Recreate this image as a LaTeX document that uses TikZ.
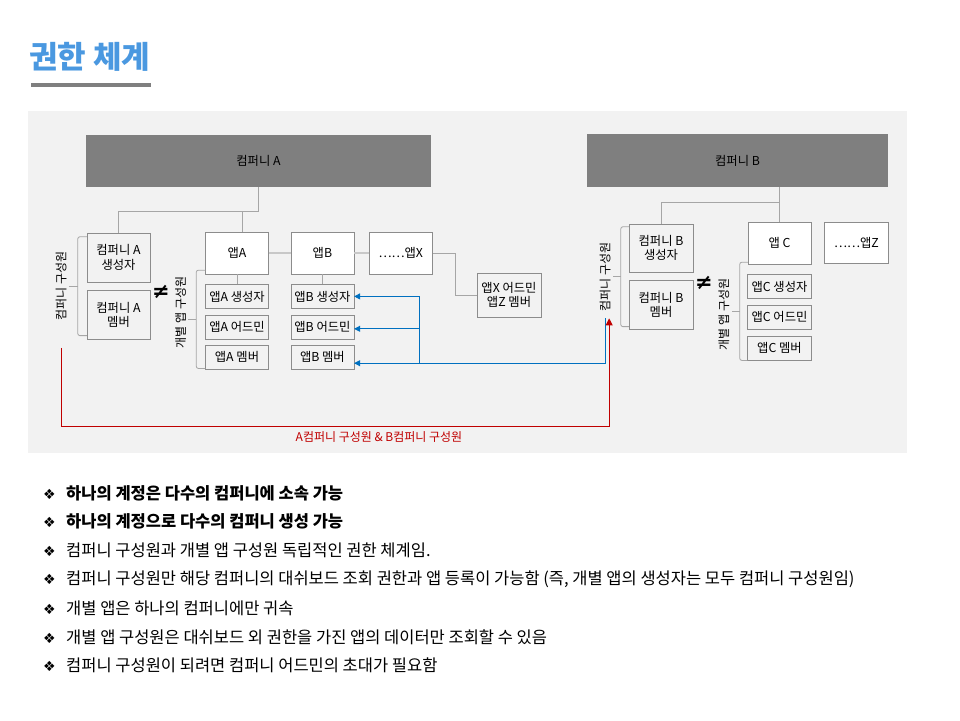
\documentclass[tikz,border=0pt]{standalone}
\usepackage{fontspec}
\setmainfont{Noto Sans CJK KR}
\newfontfamily\dejavu{DejaVu Sans}
\usepackage{xcolor}
\definecolor{titleblue}{HTML}{4A98E0}
\definecolor{panel}{HTML}{F2F2F2}
\definecolor{company}{HTML}{7F7F7F}
\definecolor{edge}{HTML}{8C8C8C}
\definecolor{linkgray}{HTML}{A6A6A6}
\definecolor{chaingray}{HTML}{C8C8C8}
\definecolor{flowblue}{HTML}{0070C0}
\definecolor{flowred}{HTML}{C00000}
\usepackage{tikz}
\usetikzlibrary{arrows.meta, positioning, calc}

\tikzset{
  companybox/.style={fill=company, text=black, inner sep=0pt,
    font=\fontsize{12.3}{14}\selectfont},
  rolebox/.style={draw=edge, fill=panel, inner sep=0pt, align=center,
    minimum width=63pt, minimum height=49pt, font=\fontsize{12.3}{14.5}\selectfont},
  appbox/.style={draw=edge, fill=white, inner sep=0pt,
    minimum width=63pt, minimum height=42pt, font=\fontsize{12.3}{14}\selectfont},
  appsub/.style={draw=edge, fill=panel, inner sep=0pt,
    minimum width=63pt, minimum height=24pt, font=\fontsize{12.3}{14}\selectfont},
  sidelabel/.style={rotate=90, inner sep=2pt, font=\fontsize{12}{13}\selectfont},
  bracket/.style={draw=linkgray, rounded corners=2pt, line width=0.8pt},
  tree/.style={draw=linkgray, line width=0.9pt},
  chain/.style={draw=chaingray, line width=2pt},
  neqsign/.style={font=\dejavu\bfseries\fontsize{21}{21}\selectfont},
  note/.style={anchor=west, inner sep=0pt, font=\fontsize{16.5}{19}\selectfont},
}

\newcommand{\dia}{\makebox[23pt][l]{\dejavu\fontsize{14}{14}\selectfont ❖}}

\begin{document}
\begin{tikzpicture}[x=1pt, y=-1pt, >=Stealth]

  \useasboundingbox (0,0) rectangle (960,720);

  % title
  \node[anchor=west, inner sep=0pt, text=titleblue,
        font=\bfseries\fontsize{31}{33}\selectfont] (title) at (29,57) {권한 체계};
  \fill[company] (31,83) rectangle (151,87);

  % panel
  \fill[panel] (28,111) rectangle (907,453);

  % company A
  \node[companybox, minimum width=345pt, minimum height=52pt] (compA)
    at (258.5,161) {컴퍼니 A};

  \node[rolebox] (crA) at (118.5,257.5) {컴퍼니 A\\생성자};
  \node[rolebox, below=8pt of crA] (mbA) {컴퍼니 A\\멤버};

  \node[appbox] (appA) at (237,253) {앱A};
  \node[appbox, right=22pt of appA] (appB) {앱B};
  \node[appbox, right=15pt of appB] (appX) {……앱X};
  \node[rolebox, minimum width=64pt, minimum height=44pt] (xadm) at (509,295)
    {앱X 어드민\\앱Z 멤버};

  \node[appsub, below=10pt of appA] (appA1) {앱A 생성자};
  \node[appsub, below=6pt of appA1] (appA2) {앱A 어드민};
  \node[appsub, below=6pt of appA2] (appA3) {앱A 멤버};

  \node[appsub, below=10pt of appB] (appB1) {앱B 생성자};
  \node[appsub, below=6pt of appB1] (appB2) {앱B 어드민};
  \node[appsub, below=6pt of appB2] (appB3) {앱B 멤버};

  \draw[tree] (compA.south) -- ++(0,24) coordinate (jA) -| (crA.north);
  \draw[tree] (jA) -| ([xshift=5pt]appA.north);
  \draw[chain] (appA) -- (appB);
  \draw[chain] (appB) -- (appX);
  \draw[tree] (appX.east) -- ++(23,0) |- (xadm.west);
  \draw[tree] (appA.south) -- (appA1.north);
  \draw[tree] (appB.south) -- (appB1.north);

  % brackets A
  \draw[bracket] ([yshift=-4pt]crA.north west) -- ++(-9,0)
    |- ([yshift=4pt]mbA.south west);
  \path ($([yshift=-4pt]crA.north west)!0.5!([yshift=4pt]mbA.south west)$)
    ++(-9,0) coordinate (tA);
  \draw[bracket] (tA) -- ++(-9,0) coordinate (tA2);
  \node[sidelabel, anchor=south] (lblA) at (tA2) {컴퍼니 구성원};

  \draw[bracket] ([yshift=4pt]appA.south west) -- ++(-9,0)
    |- ([yshift=1pt]appA3.south west);
  \path ($([yshift=4pt]appA.south west)!0.5!([yshift=1pt]appA3.south west)$)
    ++(-9,0) coordinate (tAa);
  \draw[bracket] (tAa) -- ++(-8,0) coordinate (tAa2);
  \node[sidelabel, anchor=south] (lblAa) at ([yshift=7pt]tAa2) {개별 앱 구성원};

  \node[neqsign] (neqA) at (161,292) {≠};

  % company B
  \node[companybox, minimum width=301pt, minimum height=53pt] (compB)
    at (737.5,160.5) {컴퍼니 B};

  \node[rolebox, minimum width=64pt, minimum height=48pt] (crB) at (661,248)
    {컴퍼니 B\\생성자};
  \node[rolebox, minimum width=64pt, below=8pt of crB] (mbB) {컴퍼니 B\\멤버};

  \node[appbox] (appC) at (779.5,243) {앱 C};
  \node[appbox, minimum width=64pt, minimum height=41pt, right=13pt of appC]
    (appZ) {……앱Z};

  \node[appsub, minimum width=64pt, below=10pt of appC] (appC1) {앱C 생성자};
  \node[appsub, minimum width=64pt, below=6pt of appC1] (appC2) {앱C 어드민};
  \node[appsub, minimum width=64pt, below=7pt of appC2] (appC3) {앱C 멤버};

  \draw[tree] (appC.north) -- (appC.north |- compB.south);
  \draw[tree] (crB.north) -- ++(0,-21) -| (appC.north);

  % brackets B
  \draw[bracket] ([yshift=-3pt]crB.north west) -- ++(-8,0)
    |- ([yshift=3pt]mbB.south west);
  \path ($([yshift=-3pt]crB.north west)!0.5!([yshift=3pt]mbB.south west)$)
    ++(-8,0) coordinate (tB);
  \draw[bracket] (tB) -- ++(-8,0) coordinate (tB2);
  \node[sidelabel, anchor=south] (lblB) at (tB2) {컴퍼니 구성원};

  \draw[bracket] ([yshift=2pt]appC.south west) -- ++(-8,0)
    |- (appC3.south west);
  \path ($([yshift=2pt]appC.south west)!0.5!(appC3.south west)$)
    ++(-8,0) coordinate (tC);
  \draw[bracket] (tC) -- ++(-8,0) coordinate (tC2);
  \node[sidelabel, anchor=south] (lblC) at ([yshift=-3pt]tC2) {개별 앱 구성원};

  \node[neqsign] (neqB) at (704,283) {≠};

  % flows
  \draw[flowblue, line width=0.9pt, -{Triangle[length=6pt,width=6pt]}]
    ([yshift=-5pt]lblB.west) |- ([yshift=-6pt]appB3.east);
  \path ([yshift=-6pt]appB3.east) ++(65,0) coordinate (jB);
  \draw[flowblue, line width=0.9pt, -{Triangle[length=6pt,width=6pt]}]
    (jB) |- (appB1.east);
  \draw[flowblue, line width=0.9pt, -{Triangle[length=6pt,width=6pt]}]
    (jB) |- ([yshift=-2pt]appB2.east);

  \draw[flowred, line width=0.9pt, -{Triangle[length=7pt,width=7pt]}]
    ([yshift=-25pt]lblA.west) -- ++(0,79)
    -| ([xshift=4pt,yshift=-5pt]lblB.west)
    node[pos=0.29, below=1pt, text=flowred, font=\fontsize{12}{13}\selectfont]
    (redlbl) {A컴퍼니 구성원 \& B컴퍼니 구성원};

  % notes
  \node[note] (n1) at (43,493) {\dia\textbf{하나의 계정은 다수의 컴퍼니에 소속 가능}};
  \node[note] (n2) at (43,521) {\dia\textbf{하나의 계정으로 다수의 컴퍼니 생성 가능}};
  \node[note] (n3) at (43,550) {\dia 컴퍼니 구성원과 개별 앱 구성원 독립적인 권한 체계임.};
  \node[note] (n4) at (43,579) {\dia 컴퍼니 구성원만 해당 컴퍼니의 대쉬보드 조회 권한과 앱 등록이 가능함 (즉, 개별 앱의 생성자는 모두 컴퍼니 구성원임)};
  \node[note] (n5) at (43,608) {\dia 개별 앱은 하나의 컴퍼니에만 귀속};
  \node[note] (n6) at (43,637) {\dia 개별 앱 구성원은 대쉬보드 외 권한을 가진 앱의 데이터만 조회할 수 있음};
  \node[note] (n7) at (43,665) {\dia 컴퍼니 구성원이 되려면 컴퍼니 어드민의 초대가 필요함};

\end{tikzpicture}
\end{document}
